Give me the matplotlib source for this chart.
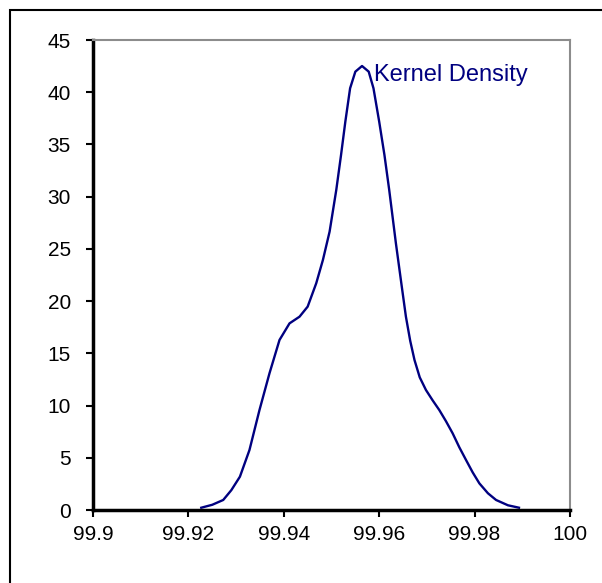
import numpy as np
import matplotlib.pyplot as plt
from matplotlib.patches import Rectangle
from matplotlib.ticker import FuncFormatter

plt.rcParams['font.family'] = ['Liberation Sans', 'DejaVu Sans']

# kernel density curve
x_vals = [99.9227, 99.9250, 99.9273, 99.9290, 99.9308, 99.9328, 99.9349, 99.9370,
          99.9391, 99.9412, 99.9433, 99.9450, 99.9468, 99.9482, 99.9496, 99.9510,
          99.9520, 99.9529, 99.9539, 99.9550, 99.9564, 99.9578, 99.9588, 99.9600,
          99.9611, 99.9621, 99.9635, 99.9647, 99.9656, 99.9665, 99.9674, 99.9685,
          99.9698, 99.9712, 99.9726, 99.9740, 99.9754, 99.9768, 99.9782, 99.9796,
          99.9810, 99.9828, 99.9845, 99.9870, 99.9893]
density = [0.22, 0.50, 0.96, 1.90, 3.19, 5.74, 9.57, 13.09,
           16.28, 17.87, 18.51, 19.47, 21.71, 23.94, 26.65, 30.64,
           33.99, 37.18, 40.38, 41.97, 42.51, 41.97, 40.38, 37.18,
           33.99, 30.64, 25.54, 21.50, 18.51, 16.20, 14.36, 12.70,
           11.49, 10.50, 9.57, 8.50, 7.34, 6.00, 4.79, 3.60,
           2.55, 1.60, 0.96, 0.45, 0.22]
label = "Kernel Density"

W, H = 602, 583
fig = plt.figure(figsize=(W / 100, H / 100), dpi=100)
ax = fig.add_axes([93 / W, 1 - 510 / H, (570 - 93) / W, (510 - 40) / H])

ax.plot(x_vals, density, color='#000080', lw=1.7, solid_joinstyle='round')
ax.text(99.9590, 42.7, label, color='#000080', fontsize=17,
        ha='left', va='top')

ax.set_xlim(99.9, 100)
ax.set_ylim(0, 45)
ax.set_xticks(np.round(np.arange(99.9, 100.001, 0.02), 2))
ax.set_yticks(np.arange(0, 46, 5))
ax.xaxis.set_major_formatter(FuncFormatter(lambda v, p: f"{v:g}"))

for s in ['left', 'bottom']:
    ax.spines[s].set_color('black')
    ax.spines[s].set_linewidth(2.5)
for s in ['top', 'right']:
    ax.spines[s].set_color('#8c8c8c')
    ax.spines[s].set_linewidth(1.5)

ax.tick_params(axis='both', direction='out', length=5, width=1.5,
               color='black', labelsize=15)
ax.tick_params(axis='y', pad=11)
ax.tick_params(axis='x', pad=6)

# outer chart border
fig.patches.append(Rectangle((10 / W, -0.05), 1.1, 1 - 10 / H + 0.05,
                             transform=fig.transFigure, fill=False,
                             edgecolor='black', lw=1.5, clip_on=False))

fig.savefig('out.png', dpi=100)
